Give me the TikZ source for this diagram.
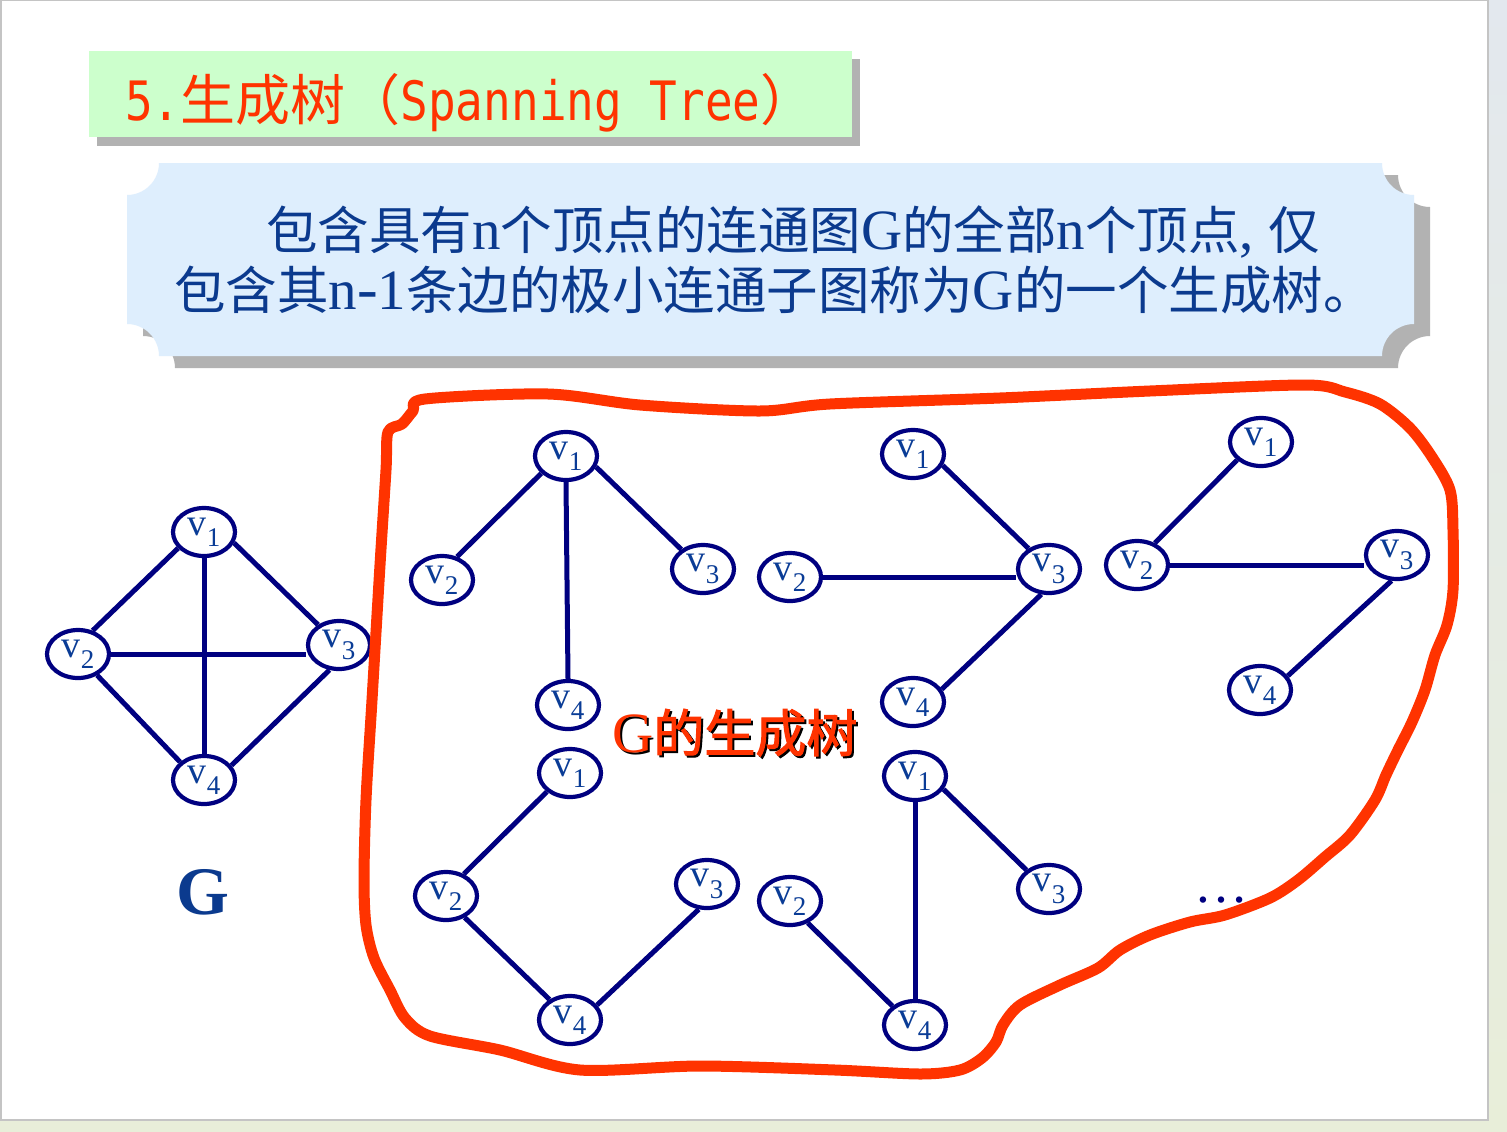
\documentclass[tikz,border=0pt]{standalone}
\usepackage{fontspec}
\usetikzlibrary{shapes.geometric}
\setmainfont{Liberation Serif}
\newfontfamily\cjk{Noto Sans CJK SC}
\newfontfamily\cjkbold[FakeBold=2]{Noto Sans CJK SC}
\newfontfamily\monofont{DejaVu Sans Mono}

\definecolor{pagebgtop}{HTML}{E3E8EE}
\definecolor{pagebgbot}{HTML}{E8EED9}
\definecolor{slideedge}{HTML}{C4C4C4}
\definecolor{titlegreen}{HTML}{CCFFCC}
\definecolor{shadowgray}{HTML}{B2B2B2}
\definecolor{hotred}{HTML}{FF3300}
\definecolor{boxblue}{HTML}{DEEEFD}
\definecolor{bodyblue}{HTML}{0B3A8E}
\definecolor{labelblue}{HTML}{0A3C96}
\definecolor{navy}{HTML}{000080}

% vertex label v_k
\newcommand\vlab[1]{v\raisebox{-0.3em}{\fontsize{27}{27}\selectfont #1}}
% body text pieces
\newcommand\zh[1]{{\cjk\fontsize{51.5}{51.5}\selectfont #1}}

\tikzset{
  vert/.style={ellipse, draw=navy, line width=4.2, fill=white,
    minimum width=62, minimum height=48, inner sep=0,
    text=labelblue, font=\fontsize{38}{38}\selectfont},
  edge/.style={draw=navy, line width=5},
  blob/.style={draw=hotred, line width=11, line join=round, line cap=round},
}

\begin{document}
\begin{tikzpicture}[x=1pt, y=-1pt]
\useasboundingbox (0,0) rectangle (1507,1132);

% page and slide
\shade[top color=pagebgtop, bottom color=pagebgbot] (0,0) rectangle (1507,1132);
\fill[white] (0,0) rectangle (1488,1120);
\draw[slideedge, line width=1.5] (0.75,0.75) rectangle (1488,1120);

% title banner
\fill[shadowgray] (97,59) rectangle (860,146);
\fill[titlegreen] (89,51) rectangle (852,137);
\node[anchor=base west, inner sep=0, text=hotred] (title) at (125,120)
  {{\monofont\fontsize{46}{46}\selectfont\scalebox{1}[1.18]{5.}}%
   {\cjk\fontsize{55}{55}\selectfont 生成树（}%
   {\monofont\fontsize{46}{46}\selectfont\scalebox{1}[1.18]{Spanning Tree}}%
   {\cjk\fontsize{55}{55}\selectfont ）}};

% definition box with scooped corners
\def\r{32}
\fill[shadowgray, shift={(16,12)}]
  (127+\r,163) -- (1414-\r,163) arc[start angle=180, end angle=90, radius=\r]
  -- (1414,356-\r) arc[start angle=-90, end angle=-180, radius=\r]
  -- (127+\r,356) arc[start angle=0, end angle=-90, radius=\r]
  -- (127,163+\r) arc[start angle=90, end angle=0, radius=\r] -- cycle;
\fill[boxblue]
  (127+\r,163) -- (1414-\r,163) arc[start angle=180, end angle=90, radius=\r]
  -- (1414,356-\r) arc[start angle=-90, end angle=-180, radius=\r]
  -- (127+\r,356) arc[start angle=0, end angle=-90, radius=\r]
  -- (127,163+\r) arc[start angle=90, end angle=0, radius=\r] -- cycle;

\node[anchor=base west, inner sep=0, text=bodyblue,
      font=\fontsize{57}{57}\selectfont] (line1) at (266,249)
  {\zh{包含具有}n\zh{个顶点的连通图}G\zh{的全部}n\zh{个顶点}, \zh{仅}};
\node[anchor=base west, inner sep=0, text=bodyblue,
      font=\fontsize{57}{57}\selectfont] (line2) at (174,309)
  {\zh{包含其}n{\fontsize{62}{62}\selectfont -}1\zh{条边的极小连通子图称为}G\zh{的一个生成树。}};

% the complete graph G
\node[vert] (g1) at (204,532) {\vlab1};
\node[vert] (g2) at (78,654) {\vlab2};
\node[vert] (g3) at (339,645) {\vlab3};
\node[vert] (g4) at (204,780) {\vlab4};
\draw[edge] (g1.-148) -- (g2.58);
\draw[edge] (g1.-20) -- (g3.136);
\draw[edge] (g1.south) -- (g4.north);
\draw[edge] (g2.east) -- (g2.east -| g3.west);
\draw[edge] (g2.-48) -- (g4.143);
\draw[edge] (g3.-111) -- (g4.28);
\node[text=bodyblue, font=\bfseries\fontsize{68}{68}\selectfont, anchor=base]
  (gname) at (203,914) {G};

% outline around the spanning trees
\draw[blob] plot[smooth cycle, tension=0.5] coordinates {
  (388,432) (402,424) (413,411) (425,399) (548,394) (640,405) (760,411)
  (830,404) (1000,398) (1150,391) (1305,385) (1345,392) (1380,404)
  (1410,428) (1432,457) (1450,490) (1453,530) (1453,590) (1447,625)
  (1435,655) (1425,690) (1412,722) (1398,750) (1386,775) (1375,800)
  (1350,835) (1325,857) (1298,880) (1270,898) (1225,915) (1190,922)
  (1150,935) (1120,950) (1098,968) (1060,985) (1020,1005) (1003,1025)
  (996,1042) (982,1058) (960,1070) (920,1074) (835,1070) (700,1066)
  (580,1070) (500,1050) (430,1036) (405,1018) (390,990) (374,958)
  (366,925) (364,880) (366,800) (372,700) (380,565) (386,470)};

% spanning tree 1
\node[vert] (a1) at (566,456) {\vlab1};
\node[vert] (a2) at (442,580) {\vlab2};
\node[vert] (a3) at (703,569) {\vlab3};
\node[vert] (a4) at (568,705) {\vlab4};
\draw[edge] (a1.-145) -- (a2.57);
\draw[edge] (a1.-20) -- (a3.138);
\draw[edge] (a1.south) -- (a4.north);

% spanning tree 2
\node[vert] (b1) at (913,454) {\vlab1};
\node[vert] (b2) at (790,577) {\vlab2};
\node[vert] (b3) at (1049,569) {\vlab3};
\node[vert] (b4) at (913,702) {\vlab4};
\draw[edge] (b1.-21) -- (b3.135);
\draw[edge] (b2.east) -- (b2.east -| b3.west);
\draw[edge] (b3.-107) -- (b4.24);

% spanning tree 3
\node[vert] (c1) at (1261,442) {\vlab1};
\node[vert] (c2) at (1137,565) {\vlab2};
\node[vert] (c3) at (1397,555) {\vlab3};
\node[vert] (c4) at (1260,690) {\vlab4};
\draw[edge] (c1.-143) -- (c2.51);
\draw[edge] (c2.east) -- (c2.east -| c3.west);
\draw[edge] (c3.-102) -- (c4.27);

% spanning tree 4
\node[vert] (d1) at (570,773) {\vlab1};
\node[vert] (d2) at (446,896) {\vlab2};
\node[vert] (d3) at (707,884) {\vlab3};
\node[vert] (d4) at (570,1020) {\vlab4};
\draw[edge] (d1.-141) -- (d2.51);
\draw[edge] (d2.-49) -- (d4.135);
\draw[edge] (d4.29) -- (d3.-108);

% spanning tree 5
\node[vert] (e1) at (915,776) {\vlab1};
\node[vert] (e2) at (790,901) {\vlab2};
\node[vert] (e3) at (1049,889) {\vlab3};
\node[vert] (e4) at (915,1025) {\vlab4};
\draw[edge] (e1.south) -- (e4.north);
\draw[edge] (e1.-25) -- (e3.140);
\draw[edge] (e2.-51) -- (e4.140);

% caption with drop shadow
\node[anchor=base west, inner sep=0, text=black] (capshadow) at (614,754)
  {\fontsize{57}{57}\selectfont G{\cjkbold\fontsize{51}{51}\selectfont 的生成树}};
\node[anchor=base west, inner sep=0, text=hotred] (caption) at (612,752)
  {\fontsize{57}{57}\selectfont G{\cjkbold\fontsize{51}{51}\selectfont 的生成树}};

% more trees
\node[anchor=base, inner sep=0, text=navy, font=\fontsize{54}{54}\selectfont]
  (more) at (1221,902) {…};
\end{tikzpicture}
\end{document}
